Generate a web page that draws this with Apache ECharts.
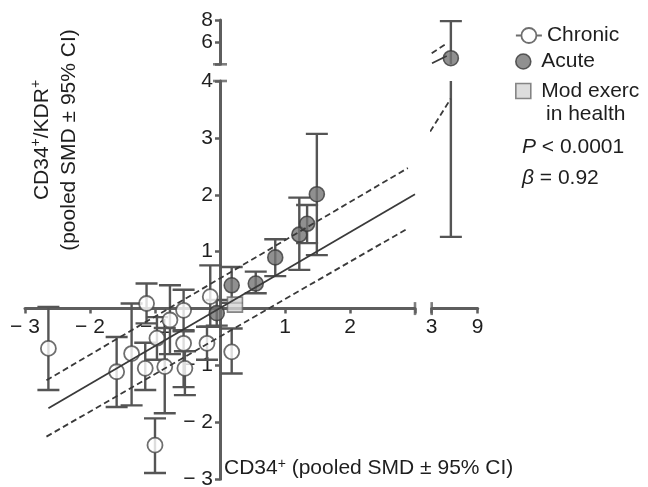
<!DOCTYPE html>
<html><head><meta charset="utf-8">
<script src="https://cdn.jsdelivr.net/npm/echarts@6/dist/echarts.min.js"></script>
<style>html,body{margin:0;padding:0;background:#fff}#c{width:648px;height:487px}</style>
</head><body><div id="c"></div>
<script>
// ---- data ----
const chronicX    = [-2.64, -1.13, -1.59, -1.36, -0.97, -0.77, -0.56, -0.15, -0.20,  0.18, -0.56, -1.15, -0.85, -0.54, -1.00];
const chronicY    = [-0.70,  0.09, -1.11, -0.79, -0.52, -0.20, -0.03,  0.21, -0.61, -0.76, -0.61, -1.05, -1.02, -1.05, -2.40];
const chronicLow  = [-1.43, -0.26, -1.73, -1.70, -0.90, -0.80, -0.40, -0.32, -0.90, -1.14, -1.38, -1.43, -1.84, -1.52, -2.89];
const chronicHigh = [ 0.03,  0.44, -0.50,  0.09, -0.15,  0.41,  0.33,  0.76, -0.32, -0.35, -0.38, -0.60, -0.34, -0.75, -1.93];

const acuteX    = [-0.05, 0.18, 0.55, 0.85, 1.22, 1.34, 1.49];
const acuteY    = [-0.08, 0.41, 0.44, 0.90, 1.30, 1.49, 2.01];
const acuteLow  = [-0.30, 0.10, 0.27, 0.57, 0.68, 1.15, 0.94];
const acuteHigh = [ 0.15, 0.73, 0.65, 1.22, 1.95, 1.82, 3.07];

const acuteOutX = [5.5];
const acuteOutY = [4.55];
const acuteOutLow = [1.26];
const acuteOutHigh = [7.9];

const modX = [0.23];
const modY = [0.07];

// regression line and 95% band pieces (x, y) in each panel of the broken axes
const fitMainX = [-2.64, 3.0],  fitMainY = [-1.75, 2.01];
const ciUpMainX = [-2.67, 2.89], ciUpMainY = [-1.26, 2.47];
const ciLoMainX = [-2.67, 2.89], ciLoMainY = [-2.25, 1.41];
const ciRightX = [2.8, 5.48],   ciRightY = [3.11, 3.69];
const ciTopX = [3.0, 5.0],      ciTopY = [5.0, 5.9];
const fitTopX = [3.04, 4.96],   fitTopY = [4.09, 4.75];

// axis ranges / ticks
const xMainRange = [-3, 3];
const xRightRange = [3, 9];
const xRightTicks = [3, 9];
const yMainRange = [-3, 4];
const yTopRange = [4, 8];
const xBreakAt = 3;   // value where the main x axis is broken
const yBreakAt = 4;   // value where the main y axis is broken

// ---- chart ----
const F = '"Liberation Sans", Arial, Helvetica, sans-serif';
const AX = '#5e5e5e';
const EB = '#555555';
const TXT = '#1e1e1e';
const FS = 21;

// panel geometry (px)
const G = {left: 25, top: 81, width: 390, height: 398.3, rLeft: 431.7, rWidth: 46, tTop: 20, tHeight: 44.3};
const X0 = G.left + G.width * (0 - xMainRange[0]) / (xMainRange[1] - xMainRange[0]);
const Y0 = G.top + G.height * (yMainRange[1] - 0) / (yMainRange[1] - yMainRange[0]);
const yAxisOffset = -(X0 - G.left);
const xAxisOffset = -(G.top + G.height - Y0);

const zip = (xs, ys) => xs.map((x, i) => [x, ys[i]]);
const errData = (xs, lo, hi) => xs.map((x, i) => [x, lo[i], hi[i]]);

function errRender(params, api) {
  const x = api.value(0), lo = api.value(1), hi = api.value(2);
  const a = api.coord([x, lo]), b = api.coord([x, hi]);
  const c = 11;
  const st = {stroke: EB, lineWidth: 2.4};
  return {type: 'group', children: [
    {type: 'line', shape: {x1: a[0], y1: a[1], x2: b[0], y2: b[1]}, style: st},
    {type: 'line', shape: {x1: a[0] - c, y1: a[1], x2: a[0] + c, y2: a[1]}, style: st},
    {type: 'line', shape: {x1: b[0] - c, y1: b[1], x2: b[0] + c, y2: b[1]}, style: st}
  ]};
}

function negFmt(v) {
  if (v === 0) return '';
  return v < 0 ? '\u2212 ' + (-v) : String(v);
}

const axisLineStyle = {color: AX, width: 3};
const labelStyle = {color: TXT, fontSize: FS, fontFamily: F};
const tickStyle = {show: true, inside: false, length: 5, lineStyle: {color: AX, width: 2.5}};

const chart = echarts.init(document.getElementById('c'), null, {renderer: 'canvas'});

const chronicStyle = {color: '#ffffff', borderColor: '#4a4a4a', borderWidth: 1.8};
const acuteStyle = {color: '#747474', borderColor: '#3a3a3a', borderWidth: 1.6};
const modStyle = {color: '#d5d5d5', borderColor: '#6a6a6a', borderWidth: 1.6};
const fitStyle = {color: '#3a3a3a', width: 1.8, type: 'solid'};
const ciStyle = {color: '#3a3a3a', width: 1.8, type: [6, 3.5]};

function lineSeries(xi, yi, xs, ys, style) {
  return {type: 'line', xAxisIndex: xi, yAxisIndex: yi, data: zip(xs, ys), symbol: 'none',
    lineStyle: style, z: 6, silent: true, clip: true, animation: false};
}

const breakMarks = [
  {grid: 0, value: [xBreakAt, 0], size: [2.6, 13]},
  {grid: 0, value: [0, yBreakAt], size: [14, 2.6]},
  {grid: 1, value: [xRightRange[0], 0], size: [2.6, 13]},
  {grid: 3, value: [0, yBreakAt], size: [14, 2.6]}
];

const gridCommon = {outerBoundsMode: 'none', containLabel: false};
const legendCommon = {left: 515, padding: 0, selectedMode: false, orient: 'vertical', itemWidth: 26, itemHeight: 15,
  textStyle: {color: TXT, fontSize: FS, fontFamily: F}};
const option = {
  animation: false,
  backgroundColor: '#ffffff',
  textStyle: {fontFamily: F},
  grid: [
    {left: G.left, top: G.top, width: G.width, height: G.height, ...gridCommon},
    {left: G.rLeft, top: G.top, width: G.rWidth, height: G.height, ...gridCommon},
    {left: G.rLeft, top: G.tTop, width: G.rWidth, height: G.tHeight, ...gridCommon},
    {left: G.left, top: G.tTop, width: G.width, height: G.tHeight, ...gridCommon}
  ],
  xAxis: [
    {gridIndex: 0, type: 'value', min: xMainRange[0], max: xMainRange[1], interval: 1,
      position: 'bottom', offset: xAxisOffset,
      axisLine: {onZero: false, lineStyle: axisLineStyle},
      axisTick: tickStyle,
      axisLabel: {margin: 8, ...labelStyle, formatter: v => (v === 3 ? '' : negFmt(v))},
      splitLine: {show: false}},
    {gridIndex: 1, type: 'value', min: xRightRange[0], max: xRightRange[1],
      position: 'bottom', offset: xAxisOffset,
      axisLine: {onZero: false, lineStyle: axisLineStyle},
      axisTick: {...tickStyle, customValues: xRightTicks},
      axisLabel: {margin: 8, ...labelStyle, customValues: xRightTicks, formatter: v => String(v)},
      splitLine: {show: false}},
    {gridIndex: 2, type: 'value', min: xRightRange[0], max: xRightRange[1], show: false},
    {gridIndex: 3, type: 'value', min: xMainRange[0], max: xMainRange[1], show: false}
  ],
  yAxis: [
    {gridIndex: 0, type: 'value', min: yMainRange[0], max: yMainRange[1], interval: 1,
      position: 'left', offset: yAxisOffset,
      axisLine: {onZero: false, lineStyle: axisLineStyle},
      axisTick: tickStyle,
      axisLabel: {margin: 7, ...labelStyle, formatter: negFmt},
      splitLine: {show: false}},
    {gridIndex: 1, type: 'value', min: yMainRange[0], max: yMainRange[1], show: false},
    {gridIndex: 2, type: 'value', min: yTopRange[0], max: yTopRange[1], show: false},
    {gridIndex: 3, type: 'value', min: yTopRange[0], max: yTopRange[1], interval: 2,
      position: 'left', offset: yAxisOffset,
      axisLine: {onZero: false, lineStyle: axisLineStyle},
      axisTick: tickStyle,
      axisLabel: {margin: 7, ...labelStyle, formatter: v => (v === 4 ? '' : String(v))},
      splitLine: {show: false}}
  ],
  legend: [
    {...legendCommon, data: ['Chronic'], top: 25,
      icon: 'path://M0,7.5L5.5,7.5A7.5,7.5,0,1,1,20.5,7.5L26,7.5M20.5,7.5A7.5,7.5,0,1,1,5.5,7.5',
      itemStyle: {color: '#fff', borderColor: '#4a4a4a', borderWidth: 1.8}},
    {...legendCommon, data: ['Acute'], top: 51, icon: 'circle',
      itemStyle: {color: '#747474', borderColor: '#3a3a3a', borderWidth: 1.6}},
    {...legendCommon, data: ['Mod exerc'], top: 80.5, icon: 'path://M0,0L16,0L16,16L0,16Z',
      itemStyle: {color: '#d5d5d5', borderColor: '#6a6a6a', borderWidth: 1.6}}
  ],
  graphic: [
    {type: 'text', x: 546, y: 114, silent: true,
      style: {text: 'in health', fontSize: FS, fontFamily: F, fill: TXT, align: 'left', verticalAlign: 'middle'}},
    {type: 'text', x: 522, y: 147, silent: true,
      style: {text: '{i|P} < 0.0001', fontSize: FS, fontFamily: F, fill: TXT, align: 'left', verticalAlign: 'middle',
        rich: {i: {fontStyle: 'italic', fontSize: FS, fontFamily: F, fill: TXT}}}},
    {type: 'text', x: 522, y: 178, silent: true,
      style: {text: '{i|\u03b2} = 0.92', fontSize: FS, fontFamily: F, fill: TXT, align: 'left', verticalAlign: 'middle',
        rich: {i: {fontStyle: 'italic', fontSize: FS, fontFamily: F, fill: TXT}}}},
    {type: 'text', x: 224, y: 468, silent: true,
      style: {text: '{a|CD34}{s|+}{a| (pooled SMD \u00b1 95% CI)}', fill: TXT, align: 'left', verticalAlign: 'middle',
        rich: {a: {fontSize: FS, fontFamily: F, fill: TXT}, s: {fontSize: 14, fontFamily: F, fill: TXT, verticalAlign: 'top'}}}},
    {type: 'text', x: 56, y: 140, rotation: Math.PI / 2, silent: true,
      style: {text: '{a|CD34}{s|+}{a|/KDR}{s|+}\n{a|(pooled SMD \u00b1 95% CI)}', fill: TXT, align: 'center', verticalAlign: 'middle',
        rich: {a: {fontSize: FS, fontFamily: F, fill: TXT, lineHeight: 27}, s: {fontSize: 14, fontFamily: F, fill: TXT, verticalAlign: 'top', lineHeight: 27}}}}
  ],
  series: [
    {type: 'custom', name: 'errChronic', xAxisIndex: 0, yAxisIndex: 0, clip: true, z: 1, silent: true,
      renderItem: errRender, encode: {x: 0, y: [1, 2]}, data: errData(chronicX, chronicLow, chronicHigh)},
    {type: 'custom', name: 'errAcute', xAxisIndex: 0, yAxisIndex: 0, clip: true, z: 1, silent: true,
      renderItem: errRender, encode: {x: 0, y: [1, 2]}, data: errData(acuteX, acuteLow, acuteHigh)},
    {type: 'custom', name: 'errOutLow', xAxisIndex: 1, yAxisIndex: 1, clip: true, z: 1, silent: true,
      renderItem: errRender, encode: {x: 0, y: [1, 2]}, data: errData(acuteOutX, acuteOutLow, acuteOutHigh)},
    {type: 'custom', name: 'errOutHigh', xAxisIndex: 2, yAxisIndex: 2, clip: true, z: 1, silent: true,
      renderItem: errRender, encode: {x: 0, y: [1, 2]}, data: errData(acuteOutX, acuteOutLow, acuteOutHigh)},
    {type: 'scatter', name: 'Chronic', xAxisIndex: 0, yAxisIndex: 0, symbol: 'circle', symbolSize: 15, z: 3,
      itemStyle: chronicStyle, data: zip(chronicX, chronicY)},
    {type: 'scatter', name: 'Acute', xAxisIndex: 0, yAxisIndex: 0, symbol: 'circle', symbolSize: 15, z: 4,
      itemStyle: acuteStyle, data: zip(acuteX, acuteY)},
    {type: 'scatter', name: 'Acute', xAxisIndex: 2, yAxisIndex: 2, symbol: 'circle', symbolSize: 15, z: 4, clip: false,
      itemStyle: acuteStyle, data: zip(acuteOutX, acuteOutY)},
    {type: 'scatter', name: 'Mod exerc', xAxisIndex: 0, yAxisIndex: 0, symbol: 'rect', symbolSize: 15, z: 4,
      itemStyle: modStyle, data: zip(modX, modY)},
    lineSeries(0, 0, fitMainX, fitMainY, fitStyle),
    lineSeries(0, 0, ciUpMainX, ciUpMainY, ciStyle),
    lineSeries(0, 0, ciLoMainX, ciLoMainY, ciStyle),
    lineSeries(1, 1, ciRightX, ciRightY, ciStyle),
    lineSeries(2, 2, ciTopX, ciTopY, ciStyle),
    lineSeries(2, 2, fitTopX, fitTopY, fitStyle),
    ...[0, 1, 3].map(g => ({
      type: 'scatter', xAxisIndex: g, yAxisIndex: g, clip: false, silent: true, z: 2, symbol: 'rect',
      itemStyle: {color: AX},
      data: breakMarks.filter(b => b.grid === g).map(b => ({value: b.value, symbolSize: b.size}))
    }))
  ]
};
chart.setOption(option);
</script>
</body></html>
